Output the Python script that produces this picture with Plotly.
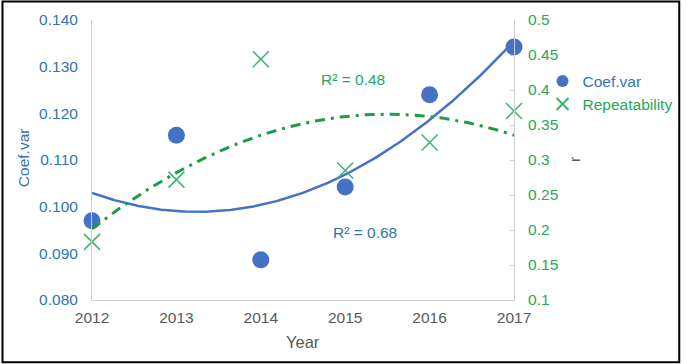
import numpy as np
import plotly.graph_objects as go

years = [2012, 2013, 2014, 2015, 2016, 2017]
coef_var = [0.0970, 0.1153, 0.0886, 0.1042, 0.1240, 0.1342]
repeatability = [0.183, 0.272, 0.444, 0.285, 0.325, 0.370]
left_ticks = [0.080, 0.090, 0.100, 0.110, 0.120, 0.130, 0.140]
right_ticks = [0.1, 0.15, 0.2, 0.25, 0.3, 0.35, 0.4, 0.45, 0.5]
r2_coef = "R² = 0.68"
r2_rep = "R² = 0.48"

BLUE = "#4472C4"
BLUE_TXT = "#2F75B5"
GREEN = "#3DB26E"
GREEN_TXT = "#27A85A"
GREEN_LINE = "#1F9B47"
GRAY_TXT = "#595959"
AX = "#D0D0D0"
FONT = "Liberation Sans, Arial, sans-serif"
FS = 15.5

# polynomial (order 2) trend lines, fitted to the series above
xr = np.array(years, dtype=float) - 2011
xs = np.linspace(years[0], years[-1], 200)
pc = np.polyfit(xr, coef_var, 2)
pr = np.polyfit(xr, repeatability, 2)
trend_c = np.polyval(pc, xs - 2011)
trend_r = np.polyval(pr, xs - 2011)

fig = go.Figure()
fig.add_trace(go.Scatter(x=xs, y=trend_c, mode="lines", line=dict(color=BLUE, width=2.5),
                         showlegend=False, hoverinfo="skip", cliponaxis=False))
fig.add_trace(go.Scatter(x=xs, y=trend_r, mode="lines", yaxis="y2",
                         line=dict(color=GREEN_LINE, width=3, dash="10px,6px,3px,6px"),
                         showlegend=False, hoverinfo="skip", cliponaxis=False))
fig.add_trace(go.Scatter(x=years, y=coef_var, mode="markers",
                         name=f"<span style='color:{BLUE_TXT}'>Coef.var</span>",
                         marker=dict(symbol="circle", size=17, color=BLUE),
                         cliponaxis=False))
fig.add_trace(go.Scatter(x=years, y=repeatability, mode="markers", yaxis="y2",
                         name=f"<span style='color:{GREEN_TXT}'>Repeatability</span>",
                         marker=dict(symbol="x-thin", size=16, color=GREEN,
                                     line=dict(color=GREEN, width=1.5)),
                         cliponaxis=False))

W, H = 690, 364
L, R, T, B = 92, 169, 19.5, 63.5
pw, ph = W - L - R, H - T - B


def px(x):
    return (x - L) / pw


def py(y):
    return (H - B - y) / ph


fig.update_layout(
    width=W, height=H, autosize=False,
    margin=dict(l=L, r=R, t=T, b=B, pad=0),
    paper_bgcolor="white", plot_bgcolor="white",
    font=dict(family=FONT, size=FS, color=GRAY_TXT),
    xaxis=dict(range=[2012, 2017], tickvals=years, ticktext=[str(y) for y in years],
               showgrid=False, zeroline=False, showline=True, linecolor=AX, linewidth=1,
               ticks="", tickfont=dict(color=GRAY_TXT, size=FS), ticklabelstandoff=3),
    yaxis=dict(range=[0.08, 0.14], tickvals=left_ticks, tickformat=".3f",
               showgrid=False, zeroline=False, showline=True, linecolor=AX, linewidth=1,
               ticks="", tickfont=dict(color=BLUE_TXT, size=FS), ticklabelstandoff=10),
    yaxis2=dict(range=[0.1, 0.5], tickvals=right_ticks, ticktext=[f"{v:g}" for v in right_ticks],
                overlaying="y", side="right", anchor="x",
                showgrid=False, zeroline=False, showline=True, linecolor=AX, linewidth=1,
                ticks="inside", ticklen=4, tickcolor=AX,
                tickfont=dict(color=GREEN_TXT, size=FS), ticklabelstandoff=10),
    legend=dict(x=px(550), y=py(64), xanchor="left", yanchor="top",
                font=dict(size=FS), itemsizing="constant", bgcolor="rgba(0,0,0,0)",
                tracegroupgap=2),
    showlegend=True,
)

ann = dict(xref="paper", yref="paper", showarrow=False, xanchor="center", yanchor="middle")
fig.add_annotation(x=px(22), y=py(158), text="Coef.var", textangle=-90,
                   font=dict(color=BLUE_TXT, size=FS), **ann)
fig.add_annotation(x=px(582), y=py(160), text="r", textangle=-90,
                   font=dict(color=GRAY_TXT, size=FS), **ann)
fig.add_annotation(x=0.5, y=py(343), text="Year",
                   font=dict(color=GRAY_TXT, size=16.5), **ann)
fig.add_annotation(x=px(357), y=py(79), text=r2_rep,
                   font=dict(color=GREEN_TXT, size=FS), **ann)
fig.add_annotation(x=px(370), y=py(233), text=r2_coef,
                   font=dict(color=BLUE_TXT, size=FS), **ann)

# outer frame
fig.add_shape(type="rect", xref="paper", yref="paper",
              x0=px(1), x1=px(W - 1), y0=py(H - 1), y1=py(1),
              line=dict(color="black", width=2), fillcolor="rgba(0,0,0,0)", layer="above")

fig.write_html("out.html",
               config={"responsive": False, "displayModeBar": False},
               post_script="document.body.style.margin='0px';")
